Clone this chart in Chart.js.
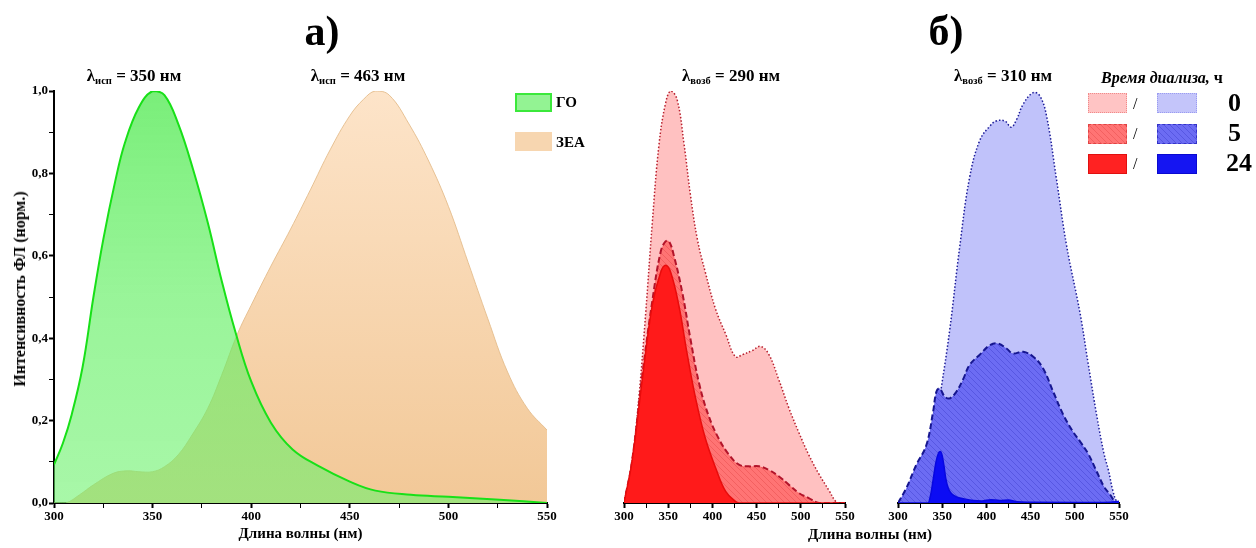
<!DOCTYPE html>
<html>
<head>
<meta charset="utf-8">
<script src="https://cdn.jsdelivr.net/npm/chart.js@4.4.1/dist/chart.umd.min.js"></script>
<style>
  html,body{margin:0;padding:0;background:#fff;}
  #wrap{position:relative;width:1256px;height:548px;overflow:hidden;background:#fff;font-family:"Liberation Serif","Times New Roman",serif;color:#000;}
  canvas{position:absolute;top:0;}
  .t{position:absolute;white-space:nowrap;font-weight:bold;transform:translate(-50%,-50%);line-height:1;}
  .l{position:absolute;white-space:nowrap;font-weight:bold;line-height:1;transform:translateY(-50%);}
  .box{position:absolute;box-sizing:border-box;}
  sub{font-size:62%;vertical-align:-0.25em;}
</style>
</head>
<body>
<div id="wrap">
  <canvas id="cA" width="560" height="548" style="left:0"></canvas>
  <canvas id="cR" width="260" height="548" style="left:600px"></canvas>
  <canvas id="cB" width="260" height="548" style="left:875px"></canvas>

  <div class="t" style="left:322px;top:31px;font-size:42px;">а)</div>
  <div class="t" style="left:946px;top:31px;font-size:42px;">б)</div>

  <div class="t" style="left:134px;top:77px;font-size:17px;">λ<sub>исп</sub> = 350 нм</div>
  <div class="t" style="left:358px;top:77px;font-size:17px;">λ<sub>исп</sub> = 463 нм</div>
  <div class="t" style="left:731px;top:77px;font-size:17px;">λ<sub>возб</sub> = 290 нм</div>
  <div class="t" style="left:1003px;top:77px;font-size:17px;">λ<sub>возб</sub> = 310 нм</div>

  <div class="t" style="left:20px;top:289px;font-size:16px;transform:translate(-50%,-50%) rotate(-90deg);">Интенсивность ФЛ (норм.)</div>

  <div class="box" style="left:515px;top:93px;width:37px;height:19px;background:#93f393;border:2px solid #3be83b;"></div>
  <div class="l" style="left:556px;top:102px;font-size:15px;">ГО</div>
  <div class="box" style="left:515px;top:132px;width:37px;height:19px;background:#f7d6b0;"></div>
  <div class="l" style="left:556px;top:142px;font-size:15px;">ЗЕА</div>

  <div class="t" style="left:1162px;top:78px;font-size:16px;"><i>Время диализа,</i> ч</div>
  <div class="box" style="left:1088px;top:93px;width:39px;height:20px;background:#ffc4c4;border:1.5px dotted #f08a8a;"></div>
  <div class="l" style="left:1133px;top:104px;font-size:16px;font-weight:normal;">/</div>
  <div class="box" style="left:1157px;top:93px;width:40px;height:20px;background:#c4c5fa;border:1.5px dotted #9a9cf0;"></div>
  <div class="l" style="left:1228px;top:103px;font-size:26px;">0</div>

  <div class="box" id="lgR5" style="left:1088px;top:124px;width:39px;height:20px;background:#ff7777;border:1.5px dashed #e04444;"></div>
  <div class="l" style="left:1133px;top:134px;font-size:16px;font-weight:normal;">/</div>
  <div class="box" id="lgB5" style="left:1157px;top:124px;width:40px;height:20px;background:#7070f2;border:1.5px dashed #3333c8;"></div>
  <div class="l" style="left:1228px;top:133px;font-size:26px;">5</div>

  <div class="box" style="left:1088px;top:154px;width:39px;height:20px;background:#ff2222;border:1.5px solid #e01010;"></div>
  <div class="l" style="left:1133px;top:164px;font-size:16px;font-weight:normal;">/</div>
  <div class="box" style="left:1157px;top:154px;width:40px;height:20px;background:#1515f2;border:1.5px solid #0a0ad0;"></div>
  <div class="l" style="left:1226px;top:163px;font-size:26px;">24</div>

  <div class="t" style="left:870px;top:534px;font-size:15px;">Длина волны (нм)</div>
</div>

<script>
// ---------------- data ----------------
const xTicksMin = 300, xTicksMax = 550;

// Panel a) GO (excitation 350 nm)
const wlGO = [300,304.5,309,314.5,320,325,331,336,343,350,356,363,370.5,378,385,392,400,410,421,434,450,463,481,500,526,550];
const valGO = [0.093,0.145,0.215,0.33,0.50,0.64,0.78,0.875,0.96,1.0,0.99,0.92,0.81,0.68,0.54,0.415,0.295,0.195,0.13,0.09,0.052,0.03,0.02,0.015,0.008,0.0];

// Panel a) ZEA (excitation 463 nm)
const wlZEA = [300,306,313,320,330,337,343,350,356,363,370,378,385,393,400,410,420,430,440,450,457,463,470,480,490,500,510,520,530,540,550];
const valZEA = [0,0,0.02,0.044,0.072,0.078,0.076,0.076,0.088,0.117,0.165,0.23,0.31,0.41,0.48,0.575,0.665,0.76,0.857,0.94,0.98,1.0,0.99,0.92,0.83,0.72,0.584,0.447,0.318,0.23,0.177];

// Panel б) red, excitation 290 nm: 0 h, 5 h, 24 h
const wlR0 = [300,309,317,324.5,332,339.6,347,352.8,360,368,375,383,392,403.7,415,426,434,445,454.6,464,475,486.6,498,509,520.6,532,539,543,550];
const valR0 = [0,0.10,0.26,0.46,0.68,0.87,0.97,1.0,0.98,0.87,0.75,0.64,0.56,0.47,0.41,0.355,0.36,0.37,0.38,0.36,0.30,0.23,0.17,0.117,0.07,0.03,0.005,0,0];
const wlR5 = [300,309,320.7,332,341.5,347,351,356.5,366,375,385,396,407.5,418.8,430,441,452.7,464,475,486.6,498,509,520.6,550];
const valR5 = [0,0.10,0.31,0.49,0.61,0.635,0.635,0.60,0.51,0.40,0.29,0.21,0.155,0.117,0.093,0.089,0.089,0.08,0.065,0.044,0.024,0.012,0,0];
const wlR24 = [300,309,320.7,332,341.5,347,352.8,362,371.6,381,392,403.7,415,426,430,550];
const valR24 = [0,0.10,0.30,0.48,0.56,0.577,0.56,0.48,0.36,0.254,0.157,0.085,0.028,0.004,0,0];

// Panel б) blue, excitation 310 nm: 0 h, 5 h, 24 h
const wlB0 = [300,309.4,320.8,332,341.5,349,358.5,370,381,392.5,404,411,421,428,434,441.6,453,460.5,468,479,490.7,506,515,525,533,538,543,547,550];
const valB0 = [0,0.012,0.052,0.11,0.18,0.28,0.42,0.625,0.79,0.88,0.915,0.927,0.927,0.912,0.93,0.968,0.996,0.988,0.94,0.79,0.625,0.46,0.34,0.21,0.12,0.08,0.03,0.005,0];
const wlB5 = [300,309.4,320.8,332,339.6,343.4,347,353,358.5,366,373.6,381,392.5,404,413,422.7,430,441.6,453,464,475.6,487,498,506,515,524,533,540,545,550];
const valB5 = [0,0.036,0.093,0.14,0.22,0.27,0.278,0.258,0.254,0.27,0.30,0.335,0.36,0.383,0.387,0.375,0.363,0.367,0.355,0.327,0.27,0.214,0.173,0.149,0.12,0.08,0.04,0.02,0.005,0];
const wlB24 = [300,334,337,340,343,346,348,350,352,354,357,361,366,375,385,395,405,415,425,435,450,500,540,550];
const valB24 = [0,0,0.02,0.06,0.10,0.122,0.125,0.115,0.09,0.06,0.035,0.022,0.015,0.01,0.006,0.005,0.008,0.006,0.007,0.003,0.002,0.001,0.002,0.004];

// ---------------- helpers ----------------
const toXY = (xs, ys) => xs.map((x, i) => ({x, y: ys[i]}));
const tickFont = {family: 'Liberation Serif', weight: 'bold', size: 13};
const titleFont = {family: 'Liberation Serif', weight: 'bold', size: 15};

function hatch(base, line) {
  const c = document.createElement('canvas');
  c.width = c.height = 6;
  const g = c.getContext('2d');
  g.fillStyle = base; g.fillRect(0, 0, 6, 6);
  g.strokeStyle = line; g.lineWidth = 1;
  g.beginPath();
  g.moveTo(-1, -1); g.lineTo(7, 7);
  g.moveTo(-1, 5); g.lineTo(1, 7);
  g.moveTo(5, -1); g.lineTo(7, 1);
  g.stroke();
  return c;
}
const hatchR = hatch('#ff7474', 'rgba(220,60,60,0.35)');
const hatchB = hatch('#6c6cf3', 'rgba(40,40,190,0.30)');
document.getElementById('lgR5').style.background = 'url(' + hatchR.toDataURL() + ')';
document.getElementById('lgB5').style.background = 'url(' + hatchB.toDataURL() + ')';

function vGrad(stops) {
  return (ctx) => {
    const chart = ctx.chart, a = chart.chartArea;
    if (!a) return stops[stops.length - 1][1];
    const g = chart.ctx.createLinearGradient(0, a.top, 0, a.bottom);
    stops.forEach(s => g.addColorStop(s[0], s[1]));
    return g;
  };
}

const xScale = (withTitle) => ({
  type: 'linear', min: xTicksMin, max: xTicksMax,
  afterFit(s) { s.height = 45; },
  ticks: {
    stepSize: 25, autoSkip: false, maxRotation: 0, color: '#000', font: tickFont, padding: 1,
    callback: v => (v % 50 === 0 ? String(v) : '')
  },
  grid: {
    drawOnChartArea: false, drawTicks: true, tickLength: 5, tickColor: '#000',
    tickWidth: c => (c.tick && c.tick.value % 50 === 0 ? 2 : 1)
  },
  border: {color: '#000', width: 2},
  title: withTitle ? {display: true, text: 'Длина волны (нм)', color: '#000', font: titleFont, padding: {top: 0, bottom: 5}} : {display: false}
});

const common = (padding) => ({
  responsive: false, animation: false, devicePixelRatio: 1,
  layout: {padding},
  plugins: {legend: {display: false}, tooltip: {enabled: false}},
  elements: {point: {radius: 0}, line: {tension: 0.4}}
});

// ---------------- panel a) ----------------
new Chart(document.getElementById('cA'), {
  type: 'line',
  data: {datasets: [
    {label: 'ГО', data: toXY(wlGO, valGO), order: 0, fill: 'origin',
     borderColor: '#18e018', borderWidth: 2,
     backgroundColor: vGrad([[0, 'rgba(70,232,70,0.72)'], [0.5, 'rgba(90,238,90,0.62)'], [1, 'rgba(110,242,110,0.6)']])},
    {label: 'ЗЕА', data: toXY(wlZEA, valZEA), order: 1, fill: 'origin',
     borderColor: 'rgba(228,188,140,0.9)', borderWidth: 1,
     backgroundColor: vGrad([[0, '#fde4c9'], [1, '#f2c897']])}
  ]},
  options: Object.assign(common({top: 91, right: 13, left: 0, bottom: 0}), {
    scales: {
      x: xScale(true),
      y: {
        min: 0, max: 1,
        afterFit(s) { s.width = 54; },
        ticks: {stepSize: 0.1, color: '#000', font: tickFont, padding: 1,
          callback: v => (Math.round(v * 10) % 2 === 0 ? v.toFixed(1).replace('.', ',') : '')},
        grid: {drawOnChartArea: false, drawTicks: true, tickLength: 5, tickColor: '#000',
          tickWidth: c => (c.tick && Math.round(c.tick.value * 10) % 2 === 0 ? 2 : 1)},
        border: {color: '#000', width: 2},
        title: {display: false}
      }
    }
  })
});

// ---------------- panel б) red ----------------
new Chart(document.getElementById('cR'), {
  type: 'line',
  data: {datasets: [
    {label: '24', data: toXY(wlR24, valR24), order: 0, fill: 'origin',
     borderColor: '#e80c0c', borderWidth: 1.5, backgroundColor: '#ff1a1a'},
    {label: '5', data: toXY(wlR5, valR5), order: 1, fill: 'origin',
     borderColor: '#b3142a', borderWidth: 2, borderDash: [6, 3], backgroundColor: hatchR.getContext('2d').createPattern(hatchR, 'repeat')},
    {label: '0', data: toXY(wlR0, valR0), order: 2, fill: 'origin',
     borderColor: '#b8202e', borderWidth: 1.5, borderDash: [1.5, 2], backgroundColor: '#ffc1c1'}
  ]},
  options: Object.assign(common({top: 91, right: 15, left: 24, bottom: 0}), {
    scales: {
      x: xScale(false),
      y: {display: false, min: 0, max: 1}
    }
  })
});

// ---------------- panel б) blue ----------------
new Chart(document.getElementById('cB'), {
  type: 'line',
  data: {datasets: [
    {label: '24', data: toXY(wlB24, valB24), order: 0, fill: 'origin', cubicInterpolationMode: 'monotone',
     borderColor: '#0808e0', borderWidth: 1.5, backgroundColor: '#0c0cf4'},
    {label: '5', data: toXY(wlB5, valB5), order: 1, fill: 'origin',
     borderColor: '#161690', borderWidth: 2, borderDash: [6, 3], backgroundColor: hatchB.getContext('2d').createPattern(hatchB, 'repeat')},
    {label: '0', data: toXY(wlB0, valB0), order: 2, fill: 'origin',
     borderColor: '#1c1c98', borderWidth: 1.5, borderDash: [1.5, 2], backgroundColor: '#c0c2fa'}
  ]},
  options: Object.assign(common({top: 91, right: 16, left: 23, bottom: 0}), {
    scales: {
      x: xScale(false),
      y: {display: false, min: 0, max: 1}
    }
  })
});
</script>
</body>
</html>
